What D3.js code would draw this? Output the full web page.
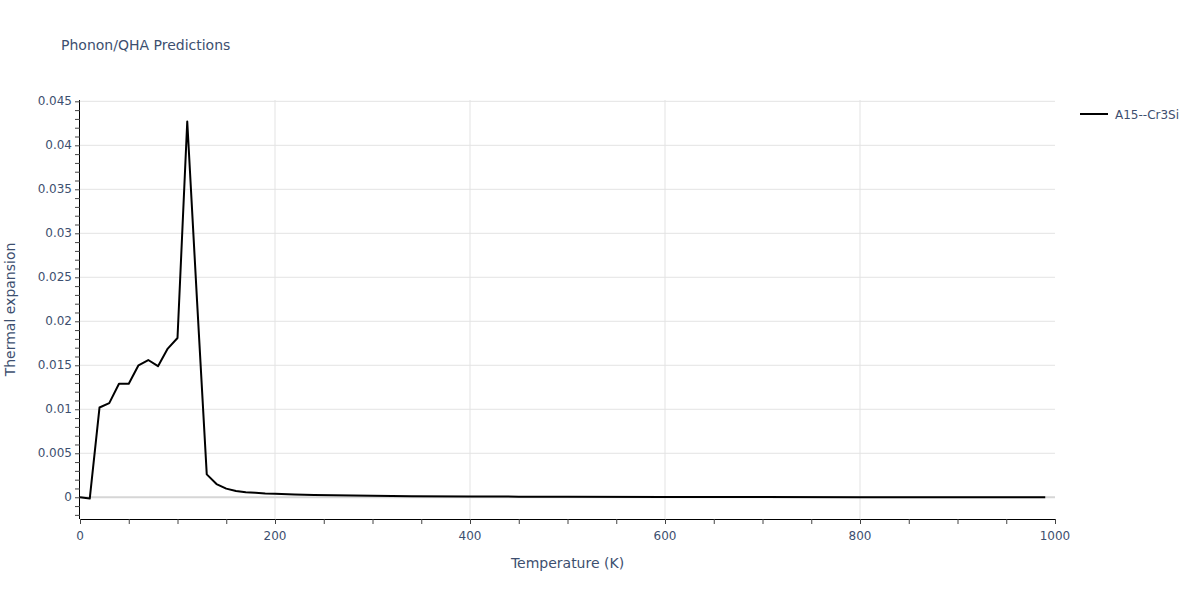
<!DOCTYPE html>
<html>
<head>
<meta charset="utf-8">
<script src="https://cdn.jsdelivr.net/npm/d3@7"></script>
<style>
  body { margin: 0; background: #fff; }
  svg { font-family: "DejaVu Sans", Verdana, sans-serif; }
</style>
</head>
<body>
<svg id="chart" width="1200" height="600"></svg>
<script>
// Data
const temperatures = [0, 10, 20, 30, 40, 50, 60, 70, 80, 90, 100, 110, 120, 130, 140, 150, 160, 170, 180, 190, 200,
  220, 240, 260, 280, 300, 340, 400, 450, 500, 600, 700, 800, 900, 990];
const thermalExpansion = [0, -0.00015, 0.0102, 0.0107, 0.0129, 0.0129, 0.0150, 0.0156, 0.0149, 0.0169, 0.0181, 0.0427,
  0.0224, 0.0026, 0.0015, 0.00098, 0.00072, 0.00058, 0.0005, 0.00043, 0.00039,
  0.00031, 0.00025, 0.00022, 0.00019, 0.00016, 0.00012, 0.00009, 0.00007, 0.00005, 0.00003, 0.00002, 0.000012, 0.000008, 0.000005];
const seriesName = "A15--Cr3Si";
const xTickValues = [0, 200, 400, 600, 800, 1000];
const yTickValues = [0, 0.005, 0.01, 0.015, 0.02, 0.025, 0.03, 0.035, 0.04, 0.045];
const yTickLabels = ["0", "0.005", "0.01", "0.015", "0.02", "0.025", "0.03", "0.035", "0.04", "0.045"];

(function () {
const svg = d3.select("#chart");
const pL = 80, pR = 1055, pT = 100, pB = 519;
const textColor = "#3d4f6f";

const x = d3.scaleLinear().domain([0, 1000]).range([pL, pR]);
const y = d3.scaleLinear().domain([-0.00247, 0.04515]).range([pB, pT]);

// Grid
const grid = svg.append("g");
grid.selectAll("line.vg").data(xTickValues.filter(v => v > 0 && v < 1000)).enter().append("line")
  .attr("x1", d => x(d)).attr("x2", d => x(d)).attr("y1", pT).attr("y2", pB)
  .attr("stroke", "#e3e3e3").attr("stroke-width", 1);
grid.selectAll("line.hg").data(yTickValues.filter(v => v !== 0)).enter().append("line")
  .attr("x1", pL).attr("x2", pR).attr("y1", d => y(d)).attr("y2", d => y(d))
  .attr("stroke", "#e3e3e3").attr("stroke-width", 1);
grid.append("line").attr("x1", pL).attr("x2", pR).attr("y1", y(0)).attr("y2", y(0))
  .attr("stroke", "#d6d6d6").attr("stroke-width", 2);

// Line
const line = d3.line().x((d, i) => x(temperatures[i])).y(d => y(d));
svg.append("path").datum(thermalExpansion)
  .attr("d", line).attr("fill", "none").attr("stroke", "#000").attr("stroke-width", 2)
  .attr("stroke-linejoin", "round");

// X axis
const xAxisG = svg.append("g").attr("transform", `translate(0,${pB})`)
  .call(d3.axisBottom(x).tickValues(d3.range(0, 1001, 50)).tickSize(5).tickFormat(""));
xAxisG.select(".domain").attr("stroke", "#000").attr("d", `M${pL},0.5H${pR}`);
xAxisG.selectAll(".tick line").attr("stroke", "#444");
svg.append("g").selectAll("text").data(xTickValues).enter().append("text")
  .attr("x", d => x(d)).attr("y", pB + 21).attr("text-anchor", "middle")
  .attr("font-size", 12).attr("fill", textColor).text(d => d);

// Y axis
const minorY = d3.range(-2, 46).map(v => v / 1000);
const yAxisG = svg.append("g").attr("transform", `translate(${pL},0)`)
  .call(d3.axisLeft(y).tickValues(minorY).tickSize(5).tickFormat(""));
yAxisG.select(".domain").attr("stroke", "#000").attr("d", `M-0.5,${pT}V${pB}`);
yAxisG.selectAll(".tick line").attr("stroke", "#444");
svg.append("g").selectAll("text").data(yTickValues).enter().append("text")
  .attr("x", pL - 8).attr("y", d => y(d) + 4).attr("text-anchor", "end")
  .attr("font-size", 12).attr("fill", textColor).text((d, i) => yTickLabels[i]);

// Titles
svg.append("text").attr("x", 61).attr("y", 50).attr("font-size", 14).attr("fill", textColor)
  .text("Phonon/QHA Predictions");
svg.append("text").attr("x", (pL + pR) / 2).attr("y", 568).attr("text-anchor", "middle")
  .attr("font-size", 14).attr("fill", textColor).text("Temperature (K)");
svg.append("text").attr("transform", `translate(15,${(pT + pB) / 2}) rotate(-90)`)
  .attr("text-anchor", "middle").attr("font-size", 14).attr("fill", textColor).text("Thermal expansion");

// Legend
const lg = svg.append("g").attr("transform", "translate(1080,114)");
lg.append("line").attr("x1", 0).attr("x2", 28).attr("y1", 0).attr("y2", 0).attr("stroke", "#000").attr("stroke-width", 2);
lg.append("text").attr("x", 35).attr("y", 4.5).attr("font-size", 12).attr("fill", textColor).text(seriesName);
})();
</script>
</body>
</html>
